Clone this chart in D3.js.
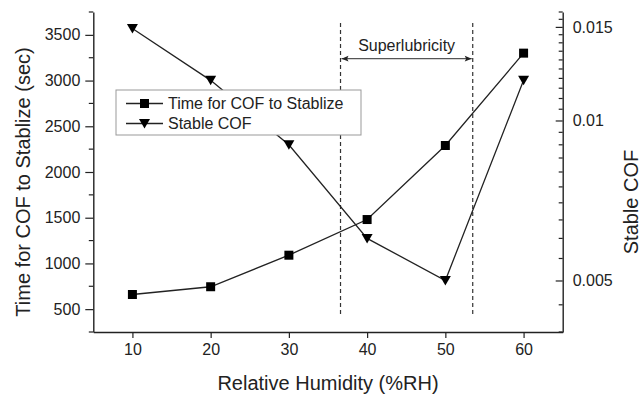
<!DOCTYPE html>
<html><head><meta charset="utf-8">
<script src="https://cdn.jsdelivr.net/npm/d3@7"></script>
<style>
html,body{margin:0;padding:0;background:#fff;}
svg{display:block;font-family:"Liberation Sans",Arial,sans-serif;}
</style></head>
<body><svg id="c" width="643" height="394"></svg>
<script>
// ---- data ----
const humidity = [10, 20, 30, 40, 50, 60];
const timeToStabilize = [660, 745, 1090, 1480, 2290, 3300];
const stableCOF = [0.0149, 0.0119, 0.0090, 0.0060, 0.0050, 0.0119];
const xTicks = [10, 20, 30, 40, 50, 60];
const leftTicks = [500, 1000, 1500, 2000, 2500, 3000, 3500];
const rightTicks = [0.005, 0.01, 0.015];
const rightTickLabels = ["0.005", "0.01", "0.015"];
const seriesNames = ["Time for COF to Stablize", "Stable COF"];
const superRange = [36.6, 53.5];        // %RH bounds of superlubricity region
const dashExtent = [420, 3630];         // left-axis units
const arrowLevel = 3240;                // left-axis units

const W = 643, H = 394;
const m = {l: 93.3, r: 80.3, t: 12, b: 62};
const svg = d3.select("#c");
const x = d3.scaleLinear().domain([5, 65]).range([m.l, W - m.r]);
const yL = d3.scaleLinear().domain([250, 3750]).range([H - m.b, m.t]);
const yR = d3.scaleLog().domain([0.004, 0.016]).range([H - m.b, m.t]);

const ink = "#222";
const g = svg.append("g");

// dashed superlubricity lines
superRange.forEach(v => {
  g.append("line").attr("x1", x(v)).attr("x2", x(v))
   .attr("y1", yL(dashExtent[1])).attr("y2", yL(dashExtent[0]))
   .attr("stroke", "#333").attr("stroke-width", 1.2).attr("stroke-dasharray", "4,3");
});
// arrow
const defs = svg.append("defs");
defs.append("marker").attr("id", "ah").attr("viewBox", "0 0 10 10").attr("refX", 10).attr("refY", 5)
  .attr("markerWidth", 10).attr("markerHeight", 7).attr("markerUnits", "userSpaceOnUse").attr("orient", "auto-start-reverse")
  .append("path").attr("d", "M0,1 L10,5 L0,9 L2,5 Z").attr("fill", "#222");
g.append("line").attr("x1", x(superRange[0]) + 1).attr("x2", x(superRange[1]) - 1)
  .attr("y1", yL(arrowLevel)).attr("y2", yL(arrowLevel))
  .attr("stroke", "#555").attr("stroke-width", 1.3)
  .attr("marker-start", "url(#ah)").attr("marker-end", "url(#ah)");
g.append("text").attr("x", (x(superRange[0]) + x(superRange[1])) / 2).attr("y", yL(arrowLevel) - 7.5)
  .attr("text-anchor", "middle").attr("font-size", 16).attr("fill", ink).text("Superlubricity");

// lines
const lineT = d3.line().x((d, i) => x(humidity[i])).y(d => yL(d));
const lineC = d3.line().x((d, i) => x(humidity[i])).y(d => yR(d));
g.append("path").attr("d", lineT(timeToStabilize)).attr("fill", "none").attr("stroke", ink).attr("stroke-width", 1.3);
g.append("path").attr("d", lineC(stableCOF)).attr("fill", "none").attr("stroke", ink).attr("stroke-width", 1.3);

const sq = d3.symbol().type(d3.symbolSquare).size(81);
const tri = s => `M${-5.5},${-4.5}L${5.5},${-4.5}L0,${5}Z`;
g.selectAll(".sq").data(timeToStabilize).join("path")
  .attr("transform", (d, i) => `translate(${x(humidity[i])},${yL(d)})`).attr("d", sq()).attr("fill", "#000");
g.selectAll(".tr").data(stableCOF).join("path")
  .attr("transform", (d, i) => `translate(${x(humidity[i])},${yR(d)})`).attr("d", tri()).attr("fill", "#000");

// axes
const axStyle = sel => {
  sel.selectAll("path").attr("stroke", ink).attr("stroke-width", 1.4);
  sel.selectAll("line").attr("stroke", ink).attr("stroke-width", 1.2);
  sel.selectAll("text").attr("font-size", 16).attr("fill", ink).attr("font-family", "Liberation Sans, Arial, sans-serif");
};
// bottom
const xb = svg.append("g").attr("transform", `translate(0,${H - m.b})`)
  .call(d3.axisBottom(x).tickValues(xTicks).tickSize(6).tickPadding(6).tickSizeOuter(0));
axStyle(xb);
// left
const leftMinor = d3.range(250, 3751, 250).filter(v => !leftTicks.includes(v));
svg.append("g").attr("transform", `translate(${m.l},0)`)
  .selectAll("line").data(leftMinor).join("line")
  .attr("x1", 0).attr("x2", -4.5).attr("y1", d => yL(d)).attr("y2", d => yL(d)).attr("stroke", ink).attr("stroke-width", 1.2);
const yl = svg.append("g").attr("transform", `translate(${m.l},0)`)
  .call(d3.axisLeft(yL).tickValues(leftTicks).tickFormat(d3.format("d")).tickSize(8).tickPadding(5).tickSizeOuter(0));
axStyle(yl);
// right (ticks inward)
const rightMinor = d3.range(8, 33).map(k => k * 0.0005).filter(v => !rightTicks.some(t => Math.abs(t - v) < 1e-9));
svg.append("g").attr("transform", `translate(${W - m.r},0)`)
  .selectAll("line").data(rightMinor).join("line")
  .attr("x1", 0).attr("x2", -4).attr("y1", d => yR(d)).attr("y2", d => yR(d)).attr("stroke", ink).attr("stroke-width", 1.2);
const yr = svg.append("g").attr("transform", `translate(${W - m.r},0)`)
  .call(d3.axisRight(yR).tickValues(rightTicks).tickFormat((d, i) => rightTickLabels[i]).tickSize(0).tickPadding(10).tickSizeOuter(0));
axStyle(yr);
yr.selectAll(".tick").append("line").attr("x1", 0).attr("x2", -7).attr("stroke", ink).attr("stroke-width", 1.2);

// axis titles
svg.append("text").attr("x", (m.l + W - m.r) / 2).attr("y", 390).attr("text-anchor", "middle")
  .attr("font-size", 20).attr("fill", ink).text("Relative Humidity (%RH)");
svg.append("text").attr("transform", `translate(30,${(m.t + H - m.b) / 2 + 10}) rotate(-90)`).attr("text-anchor", "middle")
  .attr("font-size", 20).attr("fill", ink).text("Time for COF to Stablize (sec)");
svg.append("text").attr("transform", `translate(638,${(m.t + H - m.b) / 2 + 30}) rotate(-90)`).attr("text-anchor", "middle")
  .attr("font-size", 20).attr("fill", ink).text("Stable COF");

// legend
const lg = svg.append("g");
lg.append("rect").attr("x", 116).attr("y", 90).attr("width", 245).attr("height", 45)
  .attr("fill", "#fff").attr("stroke", "#999").attr("stroke-width", 1);
seriesNames.forEach((name, i) => {
  const cy = 103.5 + i * 20;
  lg.append("line").attr("x1", 126).attr("x2", 163).attr("y1", cy).attr("y2", cy).attr("stroke", ink).attr("stroke-width", 1.3);
  lg.append("path").attr("transform", `translate(144.5,${cy})`).attr("d", i === 0 ? sq() : tri()).attr("fill", "#000");
  lg.append("text").attr("x", 168).attr("y", cy + 5.5).attr("font-size", 16).attr("fill", ink).text(name);
});
</script></body></html>
